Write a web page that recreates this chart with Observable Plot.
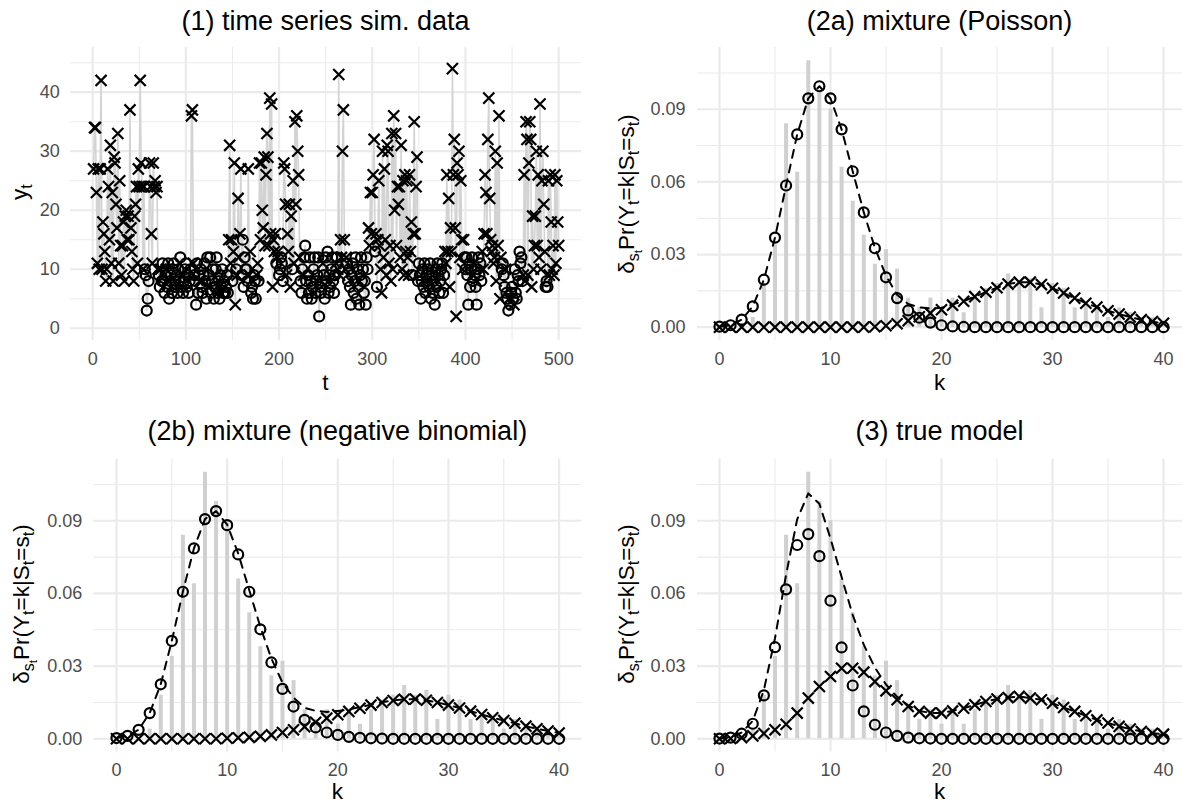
<!DOCTYPE html>
<html><head><meta charset="utf-8">
<script src="https://cdn.jsdelivr.net/npm/d3@7"></script>
<script src="https://cdn.jsdelivr.net/npm/@observablehq/plot@0.6"></script>
<style>
html,body{margin:0;padding:0;background:#fff;overflow:hidden}
#root{position:relative;width:1182px;height:803px;background:#fff;overflow:hidden;font-family:"Liberation Sans",Arial,Helvetica,sans-serif;color:#000}
.title{position:absolute;font-size:27px;line-height:1;text-align:center;white-space:nowrap}
.axt{position:absolute;font-size:22.5px;line-height:1;text-align:center;white-space:nowrap}
.ylab{position:absolute;font-size:22.5px;line-height:1;white-space:nowrap;transform:translate(-50%,-50%) rotate(-90deg)}
sub{font-size:72%;vertical-align:-0.3em;line-height:0}
</style></head><body><div id="root"></div>
<script>
// ---------- data ----------
// (1) simulated time series, t = 1..500, rows of 10
const yValues = [
27,34,34,23,11,27,10,27,42,10,
18,16,13,8,10,27,24,15,31,11,
23,8,29,28,21,17,33,11,25,14,
9,14,18,8,19,20,15,19,15,37,
17,13,10,8,19,21,24,11,27,24,
42,28,24,10,24,10,9,3,5,8,
28,24,16,11,28,24,25,23,24,10,
9,7,10,8,11,8,6,9,10,7,
11,5,8,9,6,10,11,7,8,9,
6,10,8,12,7,9,6,8,10,11,
7,9,6,8,10,36,37,11,9,8,
4,11,6,9,8,10,7,6,9,11,
8,5,12,7,9,12,6,8,10,5,
7,10,12,6,8,5,9,7,10,6,
8,6,7,9,6,15,31,11,15,8,
13,28,4,10,9,22,12,16,27,9,
15,7,12,10,10,8,27,9,13,6,
7,5,9,8,5,9,11,8,28,15,
28,20,17,29,14,26,33,29,14,39,
16,38,7,15,13,16,11,12,13,9,
10,12,11,8,28,27,21,9,16,13,
21,7,19,10,25,11,35,21,36,30,
26,12,8,6,10,9,12,14,8,5,
9,6,12,8,5,7,10,12,6,8,
9,12,2,7,6,8,11,9,5,12,
8,13,6,9,7,10,12,8,6,9,
11,12,10,43,9,15,12,30,37,15,
10,12,11,8,10,7,4,9,11,6,
8,12,5,10,7,4,9,12,8,10,
6,8,4,12,10,17,14,23,16,23,
26,32,13,16,7,15,25,14,10,6,
30,12,27,15,9,31,30,11,14,8,
33,10,36,20,33,14,24,21,24,12,
31,10,25,9,26,13,25,12,9,26,
13,18,9,16,35,16,24,29,8,11,
9,5,8,10,7,11,6,9,8,10,
7,11,5,9,6,8,4,10,7,11,
9,6,8,10,11,6,9,13,11,26,
13,22,7,17,13,44,26,32,17,2,
28,26,30,12,25,15,10,15,12,10,
12,9,4,11,7,10,12,8,11,9,
7,4,10,12,9,11,8,13,10,16,
26,23,16,32,39,22,15,13,14,11,
12,30,8,28,14,36,5,12,10,11,
9,7,10,6,5,3,5,4,6,7,
5,4,10,6,5,9,8,13,11,12,
8,9,26,8,35,32,9,28,35,32,
7,19,10,14,19,30,14,26,12,38,
10,25,30,21,13,7,8,7,25,9,
26,18,10,14,9,26,11,25,18,14
];
// decoded state for each t (1 = circle, 2 = cross)
const stateRows = [
"2222222222","2222222222","2222222222","2222222222","2222222222",
"2222211111","2222222222","1121111121","1111111111","1111121111",
"1111122211","1111211111","1112111111","1111111111","1111122221",
"2221222221","1111112221","1111122122","2222222222","2222221221",
"1111222222","2221222222","2211121111","1111111111","1111112111",
"1111111111","2122222222","2211111111","1111111111","1111122222",
"2212122222","2222222222","2222222222","2222222222","2212222211",
"1111111111","1111111111","1111111222","2222222222","2222222211",
"1111111121","1111111222","2222222222","2222222211","1121112111",
"1211111111","1222222222","2222222222","2222211122","2222222222"
];

// k = 0..40
const kValues = d3.range(0, 41);
// empirical relative frequencies (grey bars)
const barFreq = [0,0,0,0.004,0.018,0.034,0.084,0.064,0.110,0.098,0.090,0.066,0.052,0.038,0.026,0.032,0.024,0.012,0.008,0.012,0.006,0.012,0.006,0.012,0.016,0.018,0.022,0.018,0.020,0.008,0.018,0.016,0.008,0.010,0.008,0.004,0.008,0.006,0.004,0.004,0.002];
// (2a) Poisson mixture components
const poisComp1 = [0.0002,0.0008,0.0031,0.0086,0.0196,0.037,0.0585,0.0796,0.0945,0.0995,0.0945,0.0817,0.0644,0.0474,0.0326,0.0206,0.012,0.0069,0.0039,0.0019,0.0008,0.0003,0.0001,0,0,0,0,0,0,0,0,0,0,0,0,0,0,0,0,0,0];
const poisComp2 = [0,0,0,0,0,0,0,0,0,0,0,0,0,0,0.0002,0.0006,0.0014,0.0027,0.0043,0.0058,0.0072,0.0091,0.0107,0.0126,0.0145,0.0163,0.0178,0.0186,0.0186,0.0176,0.0161,0.0141,0.0120,0.0099,0.0083,0.0068,0.0054,0.0042,0.0031,0.0023,0.0016];
// (2b) negative binomial mixture components
const nbComp1 = [0.0003,0.0012,0.0037,0.0106,0.0225,0.0404,0.0607,0.0786,0.0907,0.094,0.0882,0.0761,0.0607,0.0452,0.0315,0.0206,0.0133,0.0078,0.0047,0.0026,0.0016,0.0008,0.0004,0.0002,0.0001,0,0,0,0,0,0,0,0,0,0,0,0,0,0,0,0];
const nbComp2 = [0,0,0,0,0,0,0,0,0,0,0.0002,0.0004,0.0006,0.001,0.0016,0.0026,0.0037,0.005,0.0068,0.0085,0.0099,0.0113,0.0126,0.0139,0.015,0.0158,0.0163,0.0164,0.0159,0.015,0.0139,0.0127,0.0114,0.0100,0.0087,0.0075,0.0064,0.0052,0.0041,0.0032,0.0024];
// (3) true model components
const trueComp1 = [0.0001,0.0005,0.0021,0.0062,0.0179,0.0378,0.0617,0.080,0.0845,0.0754,0.057,0.0377,0.022,0.0113,0.0058,0.0026,0.0012,0.0005,0.0002,0.0001,0,0,0,0,0,0,0,0,0,0,0,0,0,0,0,0,0,0,0,0,0];
const trueComp2 = [0,0.0001,0.0005,0.0012,0.0022,0.0037,0.006,0.0106,0.0168,0.0216,0.0257,0.0291,0.0291,0.0275,0.0236,0.0198,0.0161,0.0133,0.0113,0.0106,0.0106,0.0115,0.0126,0.014,0.0154,0.0164,0.017,0.0175,0.0168,0.0161,0.0147,0.0129,0.0113,0.0095,0.0078,0.0065,0.0051,0.004,0.003,0.0023,0.0019];

const titles = ["(1) time series sim. data","(2a) mixture (Poisson)","(2b) mixture (negative binomial)","(3) true model"];
const tMajor = [0,100,200,300,400,500], tMinor = [50,150,250,350,450];
const ytMajor = [0,10,20,30,40], ytMinor = [5,15,25,35,45];
const kMajor = [0,10,20,30,40], kMinor = [5,15,25,35];
const pMajor = [0,0.03,0.06,0.09], pMinor = [0.015,0.045,0.075,0.105];

// ---------- build ----------
const root = document.getElementById("root");
const FONT = '"Liberation Sans",Arial,Helvetica,sans-serif';
const GRID = "#EBEBEB", TICK = "#4D4D4D";
const CIRC = {symbol: "circle", r: 5, stroke: "#000", strokeWidth: 2.2, fill: "none"};
const TIMES = {symbol: "times", r: 5.1, stroke: "#000", strokeWidth: 2.2};
const states = stateRows.join("").split("").map(Number);
const ts = yValues.map((v, i) => ({t: i + 1, y: v, s: states[i]}));

function panel(o) {
  const svg = Plot.plot({
    width: o.w, height: o.h,
    marginLeft: o.pl - o.left, marginRight: o.left + o.w - o.pr,
    marginTop: o.pt - o.top, marginBottom: o.top + o.h - o.pb,
    x: {domain: o.xd}, y: {domain: o.yd},
    style: {background: "transparent", fontFamily: FONT, color: TICK, overflow: "visible"},
    marks: [
      Plot.gridX(o.xMinor, {stroke: GRID, strokeOpacity: 1, strokeWidth: 1.1}),
      Plot.gridY(o.yMinor, {stroke: GRID, strokeOpacity: 1, strokeWidth: 1.1}),
      Plot.gridX(o.xMajor, {stroke: GRID, strokeOpacity: 1, strokeWidth: 2.2}),
      Plot.gridY(o.yMajor, {stroke: GRID, strokeOpacity: 1, strokeWidth: 2.2}),
      Plot.axisX(o.xMajor, {tickSize: 0, tickPadding: o.xpad, fontSize: 18, label: null, color: TICK}),
      Plot.axisY(o.yMajor, {tickSize: 0, tickPadding: o.ypad, fontSize: 18, label: null, color: TICK, tickFormat: o.yfmt}),
      ...o.marks
    ]
  });
  svg.style.position = "absolute";
  svg.style.left = o.left + "px";
  svg.style.top = o.top + "px";
  root.append(svg);

  const t = document.createElement("div");
  t.className = "title";
  t.textContent = o.title;
  t.style.left = o.pl + "px"; t.style.width = (o.pr - o.pl) + "px";
  t.style.top = (o.titleBase - 22.9) + "px";
  root.append(t);

  const xl = document.createElement("div");
  xl.className = "axt";
  xl.textContent = o.xlab;
  xl.style.left = o.pl + "px"; xl.style.width = (o.pr - o.pl) + "px";
  xl.style.top = (o.xlabBase - 19.05) + "px";
  root.append(xl);

  const yl = document.createElement("div");
  yl.className = "ylab";
  yl.innerHTML = o.ylab;
  yl.style.left = o.ylx + "px"; yl.style.top = o.yly + "px";
  root.append(yl);
}

function distMarks(c1, c2) {
  const rows = kValues.map((k, i) => ({k, bar: barFreq[i], a: c1[i], b: c2[i], tot: c1[i] + c2[i]}));
  return [
    Plot.ruleX(rows, {x: "k", y1: 0, y2: "bar", stroke: "#D0D0D0", strokeWidth: 4}),
    Plot.line(rows, {x: "k", y: "tot", stroke: "#000", strokeWidth: 2, strokeDasharray: "8,7"}),
    Plot.dot(rows, {x: "k", y: "a", ...CIRC}),
    Plot.dot(rows, {x: "k", y: "b", ...TIMES})
  ];
}

const probLab = 'δ<sub>s<sub>t</sub></sub>Pr(Y<sub>t</sub>=k|S<sub>t</sub>=s<sub>t</sub>)';
const f2 = d3.format(".2f");

// (1)
panel({
  left: 0, top: 0, w: 591, h: 401, pl: 70, pr: 581, pt: 47, pb: 340,
  xd: [-23.8, 524.5], yd: [-2.08, 47.58],
  xMajor: tMajor, xMinor: tMinor, yMajor: ytMajor, yMinor: ytMinor,
  xpad: 11.5, ypad: 10.7, yfmt: d3.format("d"),
  title: titles[0], titleBase: 30.5, xlab: "t", xlabBase: 391.5,
  ylab: 'y<sub>t</sub>', ylx: 20, yly: 192,
  marks: [
    Plot.line(ts, {x: "t", y: "y", stroke: "#D3D3D3", strokeWidth: 1.6}),
    Plot.dot(ts.filter(d => d.s === 1), {x: "t", y: "y", ...CIRC}),
    Plot.dot(ts.filter(d => d.s === 2), {x: "t", y: "y", ...TIMES})
  ]
});
// (2a)
panel({
  left: 591, top: 0, w: 591, h: 401, pl: 697, pr: 1182, pt: 47, pb: 340,
  xd: [-1.98, 41.71], yd: [-0.0055, 0.1155],
  xMajor: kMajor, xMinor: kMinor, yMajor: pMajor, yMinor: pMinor,
  xpad: 11.5, ypad: 12, yfmt: f2,
  title: titles[1], titleBase: 30.5, xlab: "k", xlabBase: 391.5,
  ylab: probLab, ylx: 626.7, yly: 193.5,
  marks: distMarks(poisComp1, poisComp2)
});
// (2b)
panel({
  left: 0, top: 401, w: 591, h: 402, pl: 93.3, pr: 581.3, pt: 458.5, pb: 751.6,
  xd: [-2.05, 42.05], yd: [-0.0055, 0.1155],
  xMajor: kMajor, xMinor: kMinor, yMajor: pMajor, yMinor: pMinor,
  xpad: 11, ypad: 11.6, yfmt: f2,
  title: titles[2], titleBase: 441, xlab: "k", xlabBase: 800,
  ylab: probLab, ylx: 21.7, yly: 604,
  marks: distMarks(nbComp1, nbComp2)
});
// (3)
panel({
  left: 591, top: 401, w: 591, h: 402, pl: 697, pr: 1182, pt: 458.5, pb: 751.6,
  xd: [-1.98, 41.71], yd: [-0.0055, 0.1155],
  xMajor: kMajor, xMinor: kMinor, yMajor: pMajor, yMinor: pMinor,
  xpad: 11, ypad: 12, yfmt: f2,
  title: titles[3], titleBase: 441, xlab: "k", xlabBase: 800,
  ylab: probLab, ylx: 626.7, yly: 604,
  marks: distMarks(trueComp1, trueComp2)
});
</script></body></html>
